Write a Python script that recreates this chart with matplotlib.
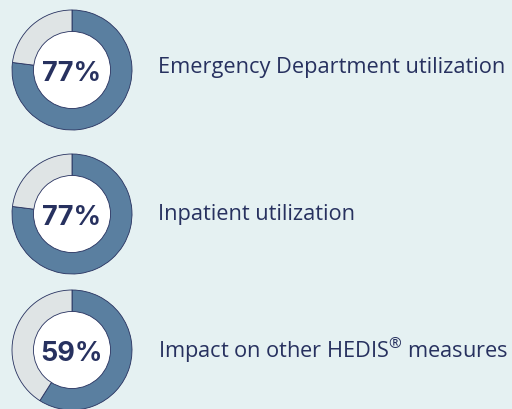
import matplotlib.pyplot as plt
from matplotlib.patches import Circle

# data
percents = [77, 77, 59]
labels = ['Emergency Department utilization', 'Inpatient utilization',
          'Impact on other HEDIS$^{®}$ measures']

bg = '#e5f1f2'
blue = '#5a7fa0'
grey = '#dfe4e5'
navy = '#27315f'

plt.rcParams['mathtext.fontset'] = 'custom'
plt.rcParams['mathtext.rm'] = 'Open Sans'
plt.rcParams['mathtext.it'] = 'Open Sans'

H = 409
fig = plt.figure(figsize=(5.12, 4.09), dpi=100, facecolor=bg)
ax = fig.add_axes([0, 0, 1, 1])
ax.set_facecolor(bg)

# layout in pixels from the top
centers_px = [70, 214, 350]
label_base_px = [73, 220, 358]
for pct, lab, cpx, lpx in zip(percents, labels, centers_px, label_base_px):
    cy = H - cpx
    ax.pie([pct, 100 - pct], colors=[blue, grey], startangle=90, counterclock=False,
           center=(72, cy), radius=60,
           wedgeprops=dict(edgecolor=navy, linewidth=0.6))
    ax.add_patch(Circle((72, cy), 38.5, facecolor='white', edgecolor=navy, linewidth=0.6))
    ax.text(72, cy - 11, f'{pct}%', ha='center', va='baseline', fontsize=19.5,
            fontweight='bold', color=navy, family='Inter')
    ax.text(158, H - lpx, lab, ha='left', va='baseline', fontsize=15.7,
            color=navy, family='Open Sans')

ax.set_xlim(0, 512)
ax.set_ylim(0, H)
ax.set_aspect('auto')
ax.axis('off')

fig.savefig('out.png', dpi=100, facecolor=bg)
